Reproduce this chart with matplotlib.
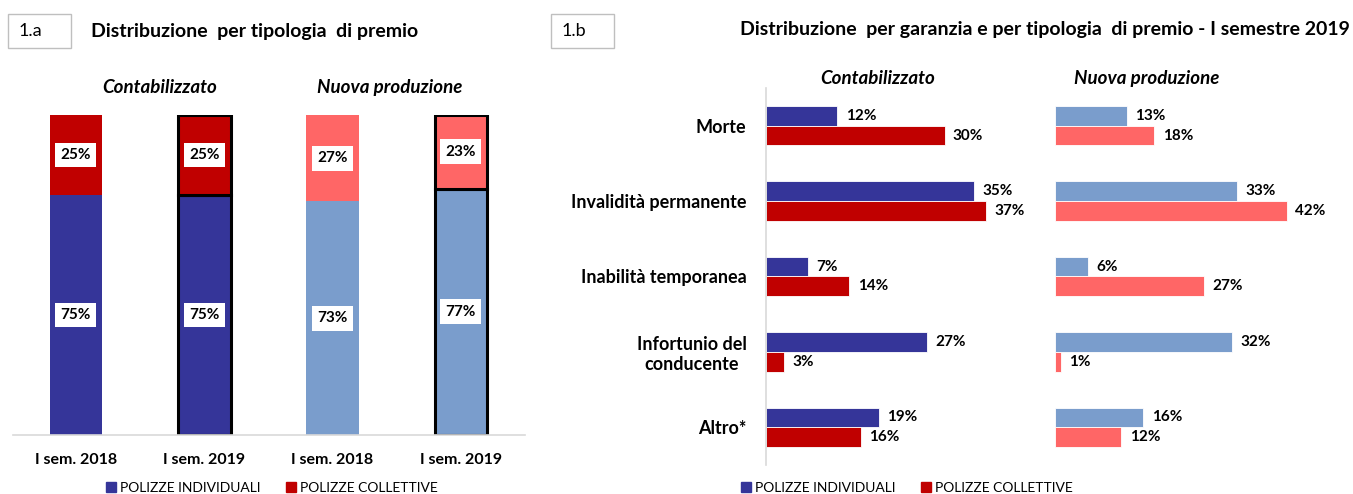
import matplotlib
matplotlib.use('Agg')
import matplotlib.pyplot as plt
from matplotlib.patches import Rectangle
import numpy as np

plt.rcParams['font.family'] = ['Lato', 'DejaVu Sans']

# --- data -------------------------------------------------------------
periodi = ['I sem. 2018', 'I sem. 2019', 'I sem. 2018', 'I sem. 2019']
individuali_a = [75, 75, 73, 77]
collettive_a = [25, 25, 27, 23]

garanzie = ['Morte', 'Invalidità permanente', 'Inabilità temporanea',
            'Infortunio del\nconducente', 'Altro*']
cont_individuali = [12, 35, 7, 27, 19]
cont_collettive = [30, 37, 14, 3, 16]
nuova_individuali = [13, 33, 6, 32, 16]
nuova_collettive = [18, 42, 27, 1, 12]

legenda = ['POLIZZE INDIVIDUALI', 'POLIZZE COLLETTIVE']

# colours
BLU = '#353599'
ROSSO = '#C00000'
AZZURRO = '#7A9DCC'
SALMONE = '#FF6666'
GRIGIO = '#D9D9D9'

W, H = 1353, 494
fig = plt.figure(figsize=(W / 100, H / 100), dpi=100)


def box(x0, y0, x1, y1):
    # axes rect from pixel coords (top-left origin)
    return [x0 / W, 1 - y1 / H, (x1 - x0) / W, (y1 - y0) / H]


def px(x, y):
    return x / W, 1 - y / H


# --- 1.a stacked bars ---------------------------------------------------
ax1 = fig.add_axes(box(13, 115, 525, 435))
x = np.arange(len(periodi))
col_ind = [BLU, BLU, AZZURRO, AZZURRO]
col_coll = [ROSSO, ROSSO, SALMONE, SALMONE]
edges = [None, 'black', None, 'black']
for i in x:
    lw = 2.2 if edges[i] else 0
    ax1.bar(i, individuali_a[i], width=0.41, color=col_ind[i],
            edgecolor=edges[i] or 'none', linewidth=lw, zorder=2)
    ax1.bar(i, collettive_a[i], bottom=individuali_a[i], width=0.41,
            color=col_coll[i], edgecolor=edges[i] or 'none', linewidth=lw, zorder=2)
    for y, v in [(individuali_a[i] / 2, individuali_a[i]),
                 (individuali_a[i] + collettive_a[i] / 2, collettive_a[i])]:
        ax1.text(i, y, f'{v}%', ha='center', va='center', fontsize=11,
                 fontweight='bold', zorder=3,
                 bbox=dict(boxstyle='square,pad=0.35', fc='white', ec='none'))
ax1.set_xlim(-0.49, 3.5)
ax1.set_ylim(0, 100)
ax1.set_xticks(x)
ax1.set_xticklabels(periodi, fontsize=11.5, fontweight='bold')
ax1.tick_params(axis='x', length=0, pad=13)
ax1.set_yticks([])
for s in ['top', 'right', 'left']:
    ax1.spines[s].set_visible(False)
ax1.spines['bottom'].set_color(GRIGIO)
ax1.spines['bottom'].set_linewidth(1.2)
ax1.legend(handles=[Rectangle((0, 0), 1, 1, color=BLU), Rectangle((0, 0), 1, 1, color=ROSSO)],
           labels=legenda, loc='center', bbox_to_anchor=(272 / W, 1 - 488 / H),
           bbox_transform=fig.transFigure, ncol=2, frameon=False, fontsize=10,
           handlelength=0.75, handleheight=0.75, handletextpad=0.3, columnspacing=1.8)

# --- 1.b horizontal bars -----------------------------------------------
pos = np.arange(len(garanzie))
h = 0.26


def barre_h(ax, ind, coll, c_ind, c_coll, xmax):
    ax.barh(pos - h / 2, ind, height=h, color=c_ind, edgecolor='white', linewidth=0.6)
    ax.barh(pos + h / 2, coll, height=h, color=c_coll, edgecolor='white', linewidth=0.6)
    for p, v in zip(pos, ind):
        ax.annotate(f'{v}%', (v, p - h / 2), xytext=(6, 0), textcoords='offset points',
                    va='center', ha='left', fontsize=11, fontweight='bold')
    for p, v in zip(pos, coll):
        ax.annotate(f'{v}%', (v, p + h / 2), xytext=(6, 0), textcoords='offset points',
                    va='center', ha='left', fontsize=11, fontweight='bold')
    ax.set_xlim(0, xmax)
    ax.set_ylim(len(garanzie) - 0.5, -0.5)
    ax.set_xticks([])
    for s in ['top', 'right', 'bottom']:
        ax.spines[s].set_visible(False)


ax2 = fig.add_axes(box(766, 88, 766 + 40 * 5.95, 465))
barre_h(ax2, cont_individuali, cont_collettive, BLU, ROSSO, 40)
ax2.spines['left'].set_color(GRIGIO)
ax2.spines['left'].set_linewidth(1.2)
ax2.set_yticks(pos)
ax2.set_yticklabels(garanzie, fontsize=13, fontweight='bold')
for lab in ax2.get_yticklabels():
    lab.set_multialignment('center')
ax2.tick_params(axis='y', length=0, pad=14)

ax3 = fig.add_axes(box(1055, 88, 1055 + 45 * 5.52, 465))
barre_h(ax3, nuova_individuali, nuova_collettive, AZZURRO, SALMONE, 45)
ax3.spines['left'].set_visible(False)
ax3.set_yticks([])

ax2.legend(handles=[Rectangle((0, 0), 1, 1, color=BLU), Rectangle((0, 0), 1, 1, color=ROSSO)],
           labels=legenda, loc='center', bbox_to_anchor=(907 / W, 1 - 488 / H),
           bbox_transform=fig.transFigure, ncol=2, frameon=False, fontsize=10,
           handlelength=0.75, handleheight=0.75, handletextpad=0.3, columnspacing=1.8)

# --- headings -----------------------------------------------------------
for x0, lab in [(8, '1.a'), (551, '1.b')]:
    fig.add_artist(Rectangle(px(x0, 48), 63 / W, 34 / H, transform=fig.transFigure,
                             fc='white', ec='#BFBFBF', lw=1))
    fig.text(*px(x0 + 11, 31), lab, fontsize=13, va='center', ha='left')

fig.text(*px(91, 32), 'Distribuzione  per tipologia  di premio', fontsize=14,
         fontweight='bold', va='center', ha='left')
fig.text(*px(1350, 29), 'Distribuzione  per garanzia e per tipologia  di premio - I semestre 2019',
         fontsize=14, fontweight='bold', va='center', ha='right')

for xc, yc, lab in [(160, 87, 'Contabilizzato'), (390, 87, 'Nuova produzione'),
                    (878, 78, 'Contabilizzato'), (1147, 78, 'Nuova produzione')]:
    fig.text(*px(xc, yc), lab, fontsize=13.5, fontweight='bold', style='italic',
             ha='center', va='center')

fig.savefig('out.png', dpi=100)
